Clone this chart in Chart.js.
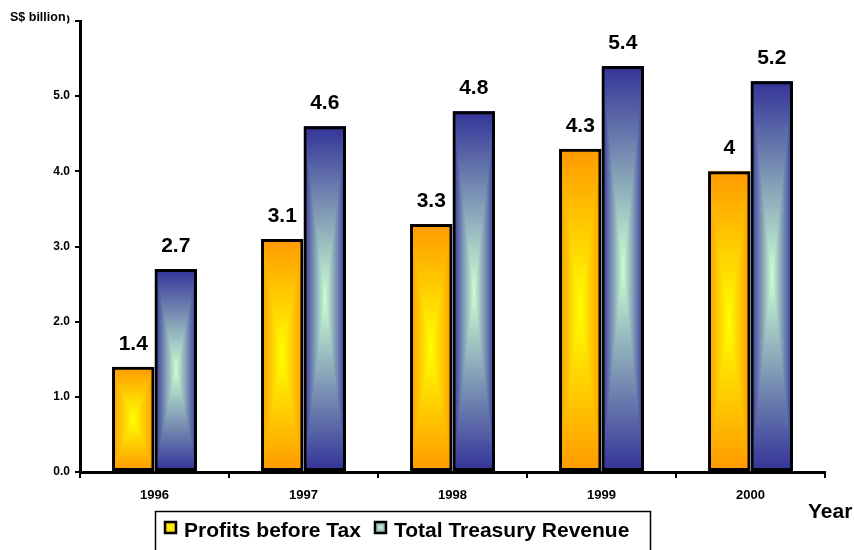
<!DOCTYPE html>
<html>
<head>
<meta charset="utf-8">
<script src="https://cdn.jsdelivr.net/npm/chart.js@4/dist/chart.umd.min.js"></script>
<style>
  html, body { margin: 0; padding: 0; background: #fff; }
  #wrap { width: 854px; height: 550px; position: relative; }
</style>
</head>
<body>
<div id="wrap"><canvas id="c" width="854" height="550"></canvas></div>
<script>
// Categories and series (S$ billion)
const years = ['1996', '1997', '1998', '1999', '2000'];
const profitsBeforeTax = [1.4, 3.1, 3.3, 4.3, 4];
const totalTreasuryRevenue = [2.7, 4.6, 4.8, 5.4, 5.2];
const seriesNames = ['Profits before Tax', 'Total Treasury Revenue'];

// Axis range
const yMin = 0;
const yMax = 6;
const yStep = 1;

const FONT = '"Liberation Sans", Arial, sans-serif';

// Centre / edge colours of the box ("from centre") fills
const fills = [
  { inner: [255, 255, 0], outer: [255, 153, 0] },
  { inner: [204, 255, 210], outer: [51, 51, 153] }
];

// Paint a rectangle whose colour runs from the centre outwards to the edges
function boxFill(ctx, left, top, w, h, inner, outer) {
  w = Math.max(1, Math.round(w));
  h = Math.max(1, Math.round(h));
  const off = document.createElement('canvas');
  off.width = w; off.height = h;
  const o = off.getContext('2d');
  const img = o.createImageData(w, h);
  const hw = w / 2, hh = h / 2;
  for (let j = 0; j < h; j++) {
    const dy = Math.abs(j + 0.5 - hh) / hh;
    for (let i = 0; i < w; i++) {
      const dx = Math.abs(i + 0.5 - hw) / hw;
      const t = Math.min(1, Math.max(dx, dy));
      const k = (j * w + i) * 4;
      img.data[k]     = inner[0] + (outer[0] - inner[0]) * t;
      img.data[k + 1] = inner[1] + (outer[1] - inner[1]) * t;
      img.data[k + 2] = inner[2] + (outer[2] - inner[2]) * t;
      img.data[k + 3] = 255;
    }
  }
  o.putImageData(img, 0, 0);
  ctx.drawImage(off, Math.round(left), Math.round(top));
}

// Gradient fill under each bar outline
const barFillPlugin = {
  id: 'barFill',
  beforeDatasetsDraw(chart) {
    const ctx = chart.ctx;
    chart.data.datasets.forEach((ds, di) => {
      const meta = chart.getDatasetMeta(di);
      meta.data.forEach(bar => {
        const p = bar.getProps(['x', 'y', 'base', 'width'], true);
        const top = Math.min(p.y, p.base);
        const h = Math.abs(p.base - p.y);
        boxFill(ctx, p.x - p.width / 2, top, p.width, h, fills[di].inner, fills[di].outer);
      });
    });
  }
};

// Value labels above the bars
const valueLabelPlugin = {
  id: 'valueLabels',
  afterDatasetsDraw(chart) {
    const ctx = chart.ctx;
    ctx.save();
    ctx.font = 'bold 21px ' + FONT;
    ctx.fillStyle = '#000';
    ctx.textAlign = 'center';
    ctx.textBaseline = 'alphabetic';
    chart.data.datasets.forEach((ds, di) => {
      const meta = chart.getDatasetMeta(di);
      meta.data.forEach((bar, i) => {
        ctx.fillText(String(ds.data[i]), bar.x, bar.y - 17);
      });
    });
    ctx.restore();
  }
};

// Unit label, axis title and boxed legend
const decorPlugin = {
  id: 'decor',
  afterDraw(chart) {
    const ctx = chart.ctx;
    ctx.save();
    // unit label sits on a white patch at the top-left
    ctx.fillStyle = '#fff';
    ctx.fillRect(6, 8, 61, 16);
    ctx.fillStyle = '#000';
    ctx.font = 'bold 12.5px ' + FONT;
    ctx.textAlign = 'left';
    ctx.textBaseline = 'alphabetic';
    ctx.fillText('S$ billion', 10, 21);

    // x axis title
    ctx.font = 'bold 21px ' + FONT;
    ctx.fillText('Year', 808, 518);

    // legend box
    const bx = 155, by = 511, bw = 495, bh = 42;
    ctx.lineWidth = 1.5;
    ctx.strokeStyle = '#000';
    ctx.strokeRect(bx + 0.5, by + 0.5, bw, bh);

    let x = bx + 10;
    const sw = 11, sy = 522;
    chart.data.datasets.forEach((ds, di) => {
      boxFill(ctx, x, sy, sw, sw, fills[di].inner, fills[di].outer.map((c, k) => (c + fills[di].inner[k]) / 2));
      ctx.lineWidth = 2.5;
      ctx.strokeRect(x, sy, sw, sw);
      x += sw + 8;
      ctx.fillStyle = '#000';
      ctx.font = 'bold 21px ' + FONT;
      ctx.fillText(ds.label, x, 537);
      x += ctx.measureText(ds.label).width + 14;
    });
    ctx.restore();
  }
};

const chart = new Chart(document.getElementById('c'), {
  type: 'bar',
  data: {
    labels: years,
    datasets: [
      {
        label: seriesNames[0],
        data: profitsBeforeTax,
        backgroundColor: 'rgba(0,0,0,0)',
        borderColor: '#000',
        borderWidth: 3,
        borderSkipped: false,
        barPercentage: 1,
        categoryPercentage: 0.57
      },
      {
        label: seriesNames[1],
        data: totalTreasuryRevenue,
        backgroundColor: 'rgba(0,0,0,0)',
        borderColor: '#000',
        borderWidth: 3,
        borderSkipped: false,
        barPercentage: 1,
        categoryPercentage: 0.57
      }
    ]
  },
  options: {
    responsive: false,
    animation: false,
    events: [],
    layout: { padding: { left: 0, right: 29, top: 21, bottom: 0 } },
    plugins: {
      legend: { display: false },
      tooltip: { enabled: false }
    },
    scales: {
      x: {
        offset: true,
        grid: {
          display: true,
          drawOnChartArea: false,
          offset: true,
          color: '#000',
          lineWidth: 2,
          tickLength: 6
        },
        border: { display: true, color: '#000', width: 3 },
        ticks: {
          color: '#000',
          font: { family: FONT, size: 13, weight: 'bold' },
          padding: 10,
          maxRotation: 0
        },
        afterFit(scale) { scale.height = 78; }
      },
      y: {
        min: yMin,
        max: yMax,
        grid: {
          display: true,
          drawOnChartArea: false,
          color: '#000',
          lineWidth: 2,
          tickLength: 5
        },
        border: { display: true, color: '#000', width: 3 },
        ticks: {
          stepSize: yStep,
          color: '#000',
          font: { family: FONT, size: 12, weight: 'bold' },
          padding: 5,
          callback: v => Number(v).toFixed(1)
        },
        afterFit(scale) { scale.width = 80; }
      }
    }
  },
  plugins: [barFillPlugin, valueLabelPlugin, decorPlugin]
});
</script>
</body>
</html>
